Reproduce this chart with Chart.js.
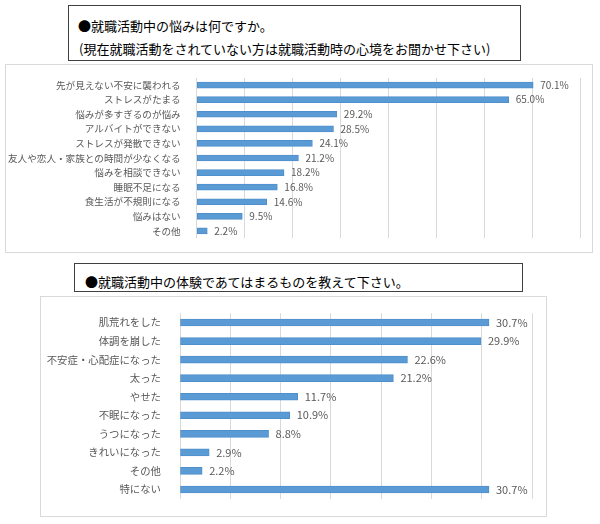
<!DOCTYPE html>
<html lang="ja">
<head>
<meta charset="utf-8">
<script src="https://cdn.jsdelivr.net/npm/chart.js@4"></script>
<style>
  body { margin: 0; background: #fff; font-family: "Noto Sans CJK JP", sans-serif; }
  .page { position: relative; width: 600px; height: 524px; overflow: hidden; }
  .titlebox { position: absolute; border: 1px solid #404040; box-sizing: border-box; color: #000; font-size: 13px; }
  .titlebox div { position: absolute; white-space: nowrap; line-height: 1; }
  .frame { position: absolute; border: 1px solid #d9d9d9; box-sizing: border-box; }
  canvas { position: absolute; }
</style>
</head>
<body>
<div class="page">
  <div class="titlebox" style="left:68px;top:5px;width:453px;height:56px;">
    <div style="left:9px;top:13px;">●就職活動中の悩みは何ですか。</div>
    <div style="left:10px;top:36px;">(現在就職活動をされていない方は就職活動時の心境をお聞かせ下さい)</div>
  </div>
  <div class="frame" style="left:5px;top:64px;width:588px;height:189px;"></div>
  <canvas id="worryChart" width="588" height="188" style="left:5px;top:64px;"></canvas>

  <div class="titlebox" style="left:74px;top:263px;width:449px;height:29px;">
    <div style="left:10px;top:11px;">●就職活動中の体験であてはまるものを教えて下さい。</div>
  </div>
  <div class="frame" style="left:40px;top:296px;width:507px;height:221px;"></div>
  <canvas id="experienceChart" width="507" height="220" style="left:40px;top:296px;"></canvas>
</div>

<script>
// 就職活動中の悩み
var worryLabels = [
  "先が見えない不安に襲われる",
  "ストレスがたまる",
  "悩みが多すぎるのが悩み",
  "アルバイトができない",
  "ストレスが発散できない",
  "友人や恋人・家族との時間が少なくなる",
  "悩みを相談できない",
  "睡眠不足になる",
  "食生活が不規則になる",
  "悩みはない",
  "その他"
];
var worryValues = [70.1, 65.0, 29.2, 28.5, 24.1, 21.2, 18.2, 16.8, 14.6, 9.5, 2.2];

// 就職活動中の体験
var experienceLabels = [
  "肌荒れをした",
  "体調を崩した",
  "不安症・心配症になった",
  "太った",
  "やせた",
  "不眠になった",
  "うつになった",
  "きれいになった",
  "その他",
  "特にない"
];
var experienceValues = [30.7, 29.9, 22.6, 21.2, 11.7, 10.9, 8.8, 2.9, 2.2, 30.7];

var barColor = "#5b9bd5";
var textColor = "#595959";
var gridColor = "#d9d9d9";
var fontFamily = '"Noto Sans CJK JP", sans-serif';

// 棒の右側に値を描くプラグイン
var valueLabels = {
  id: "valueLabels",
  afterDatasetsDraw: function(chart, args, opts) {
    var ctx = chart.ctx;
    var meta = chart.getDatasetMeta(0);
    var values = chart.data.datasets[0].data;
    ctx.save();
    ctx.font = opts.size + "px " + fontFamily;
    ctx.fillStyle = textColor;
    ctx.textAlign = "left";
    ctx.textBaseline = "middle";
    meta.data.forEach(function(bar, i) {
      ctx.fillText(values[i].toFixed(1) + "%", bar.x + opts.gap, bar.y);
    });
    ctx.restore();
  }
};

function makeChart(id, labels, values, cfg) {
  var ctx = document.getElementById(id).getContext("2d");
  return new Chart(ctx, {
    type: "bar",
    data: {
      labels: labels,
      datasets: [{
        data: values,
        backgroundColor: barColor,
        borderColor: "#4f8fcb",
        borderWidth: 1,
        borderSkipped: false,
        barThickness: cfg.barThickness
      }]
    },
    options: {
      indexAxis: "y",
      responsive: false,
      animation: false,
      layout: { padding: cfg.padding },
      plugins: {
        legend: { display: false },
        tooltip: { enabled: false },
        valueLabels: { size: cfg.valueSize, gap: 7 }
      },
      scales: {
        x: {
          min: 0,
          max: cfg.max,
          ticks: { display: false, stepSize: cfg.step },
          grid: { color: gridColor, drawTicks: false },
          border: { display: false },
          afterFit: function(scale) { scale.height = 0; }
        },
        y: {
          grid: { display: false },
          border: { display: false },
          ticks: {
            color: textColor,
            padding: cfg.tickPadding,
            font: { family: fontFamily, size: cfg.labelSize }
          },
          afterFit: function(scale) { scale.width = cfg.axisWidth; }
        }
      }
    },
    plugins: [valueLabels]
  });
}

makeChart("worryChart", worryLabels, worryValues, {
  max: 80, step: 10, barThickness: 6,
  padding: { left: 0, right: 12.3, top: 13.5, bottom: 8.5 },
  axisWidth: 191.7, tickPadding: 8, labelSize: 9.6, valueSize: 10
});

makeChart("experienceChart", experienceLabels, experienceValues, {
  max: 35, step: 5, barThickness: 7,
  padding: { left: 0, right: 14.7, top: 15.7, bottom: 14.3 },
  axisWidth: 140, tickPadding: 11, labelSize: 10.4, valueSize: 11
});
</script>
</body>
</html>
